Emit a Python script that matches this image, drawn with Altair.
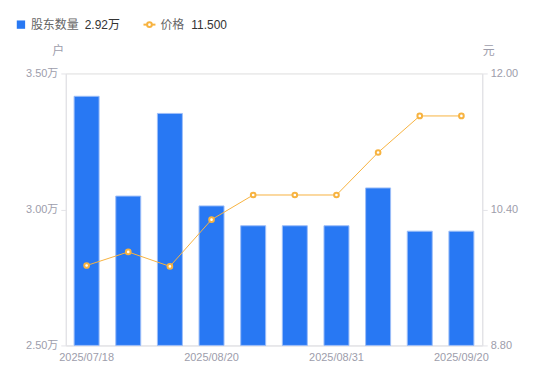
import altair as alt
import pandas as pd

dates = ["2025/07/18", "2025/07/31", "2025/08/10", "2025/08/20", "2025/08/25",
         "2025/08/29", "2025/08/31", "2025/09/05", "2025/09/10", "2025/09/20"]
holders = [3.416, 3.049, 3.353, 3.013, 2.940, 2.940, 2.940, 3.079, 2.920, 2.920]
prices = [9.74, 9.90, 9.73, 10.28, 10.57, 10.57, 10.57, 11.07, 11.50, 11.50]
shown_dates = ["2025/07/18", "2025/08/20", "2025/08/31", "2025/09/20"]

df = pd.DataFrame({"date": dates, "holders": holders, "price": prices})

FONT = "Liberation Sans, Noto Sans CJK SC, sans-serif"
LABEL = "#9d9dab"
AXLINE = "#e3e3e8"
BLUE = "#2878f3"
ORANGE = "#f7b340"

x = alt.X("date:N", sort=dates,
          scale=alt.Scale(paddingInner=0.4, paddingOuter=0.2),
          axis=alt.Axis(title=None, values=shown_dates, labelAngle=0, ticks=False,
                        domainColor=AXLINE, labelColor=LABEL, labelFontSize=11,
                        labelPadding=6, labelFont=FONT))

bars = alt.Chart(df).mark_bar(color=BLUE, stroke="#9dbef8", strokeWidth=1).encode(
    x=x,
    y=alt.Y("holders:Q",
            scale=alt.Scale(domain=[2.5, 3.5], zero=False, nice=False),
            axis=alt.Axis(title="户", values=[2.5, 3.0, 3.5], grid=False,
                          labelExpr="format(datum.value, '.2f') + '万'",
                          titleAngle=0, titleX=-8, titleY=-16, titleAlign="center",
                          titleColor=LABEL, titleFontWeight="normal", titleFontSize=12,
                          titleFont=FONT,
                          domainColor=AXLINE, tickColor=AXLINE, tickSize=5,
                          labelColor=LABEL, labelFontSize=11, labelFont=FONT,
                          labelPadding=3)),
    y2=alt.datum(2.5),
)

yp = alt.Y("price:Q",
           scale=alt.Scale(domain=[8.8, 12.0], zero=False, nice=False),
           axis=alt.Axis(title="元", orient="right", values=[8.8, 10.4, 12.0], grid=False,
                         format=".2f",
                         titleAngle=0, titleX=6, titleY=-16, titleAlign="center",
                         titleColor=LABEL, titleFontWeight="normal", titleFontSize=12,
                         titleFont=FONT,
                         domainColor=AXLINE, tickColor=AXLINE, tickSize=5,
                         labelColor=LABEL, labelFontSize=11, labelFont=FONT,
                         labelPadding=3))

line = alt.Chart(df).mark_line(color=ORANGE, strokeWidth=1).encode(x=x, y=yp)
pts = alt.Chart(df).mark_point(filled=True, fill="white", stroke=ORANGE, strokeWidth=2,
                               size=22, opacity=1).encode(x=x, y=yp)

# legend (decorative)
leg_df = pd.DataFrame({"k": [0]})
base = alt.Chart(leg_df)
sq = base.mark_square(color=BLUE, size=70, opacity=1, cornerRadius=1).encode(
    x=alt.value(-45), y=alt.value(-49))
t1 = base.mark_text(align="left", baseline="middle", fontSize=12, color="#666",
                    font=FONT).encode(x=alt.value(-35), y=alt.value(-49),
                                      text=alt.value("股东数量"))
t2 = base.mark_text(align="left", baseline="middle", fontSize=12, color="#333",
                    font=FONT).encode(x=alt.value(19), y=alt.value(-49),
                                      text=alt.value("2.92万"))
lgl = base.mark_rule(color=ORANGE, strokeWidth=2).encode(
    x=alt.value(78), x2=alt.value(90), y=alt.value(-49))
lgp = base.mark_point(filled=True, fill="white", stroke=ORANGE, strokeWidth=2,
                      size=22, opacity=1).encode(x=alt.value(84), y=alt.value(-49))
t3 = base.mark_text(align="left", baseline="middle", fontSize=12, color="#666",
                    font=FONT).encode(x=alt.value(95), y=alt.value(-49),
                                      text=alt.value("价格"))
t4 = base.mark_text(align="left", baseline="middle", fontSize=12, color="#333",
                    font=FONT).encode(x=alt.value(126), y=alt.value(-49),
                                      text=alt.value("11.500"))

data_layer = alt.layer(bars, line + pts).resolve_scale(y="independent")

chart = alt.layer(data_layer, sq, t1, t2, lgl, lgp, t3, t4).properties(
    width=418, height=273,
    autosize=alt.AutoSizeParams(type="none"),
    padding={"left": 58, "top": 65, "right": 60, "bottom": 30},
).configure_view(stroke=None).configure(font=FONT)

chart.save("out.html", embed_options={"renderer": "svg", "actions": False})
